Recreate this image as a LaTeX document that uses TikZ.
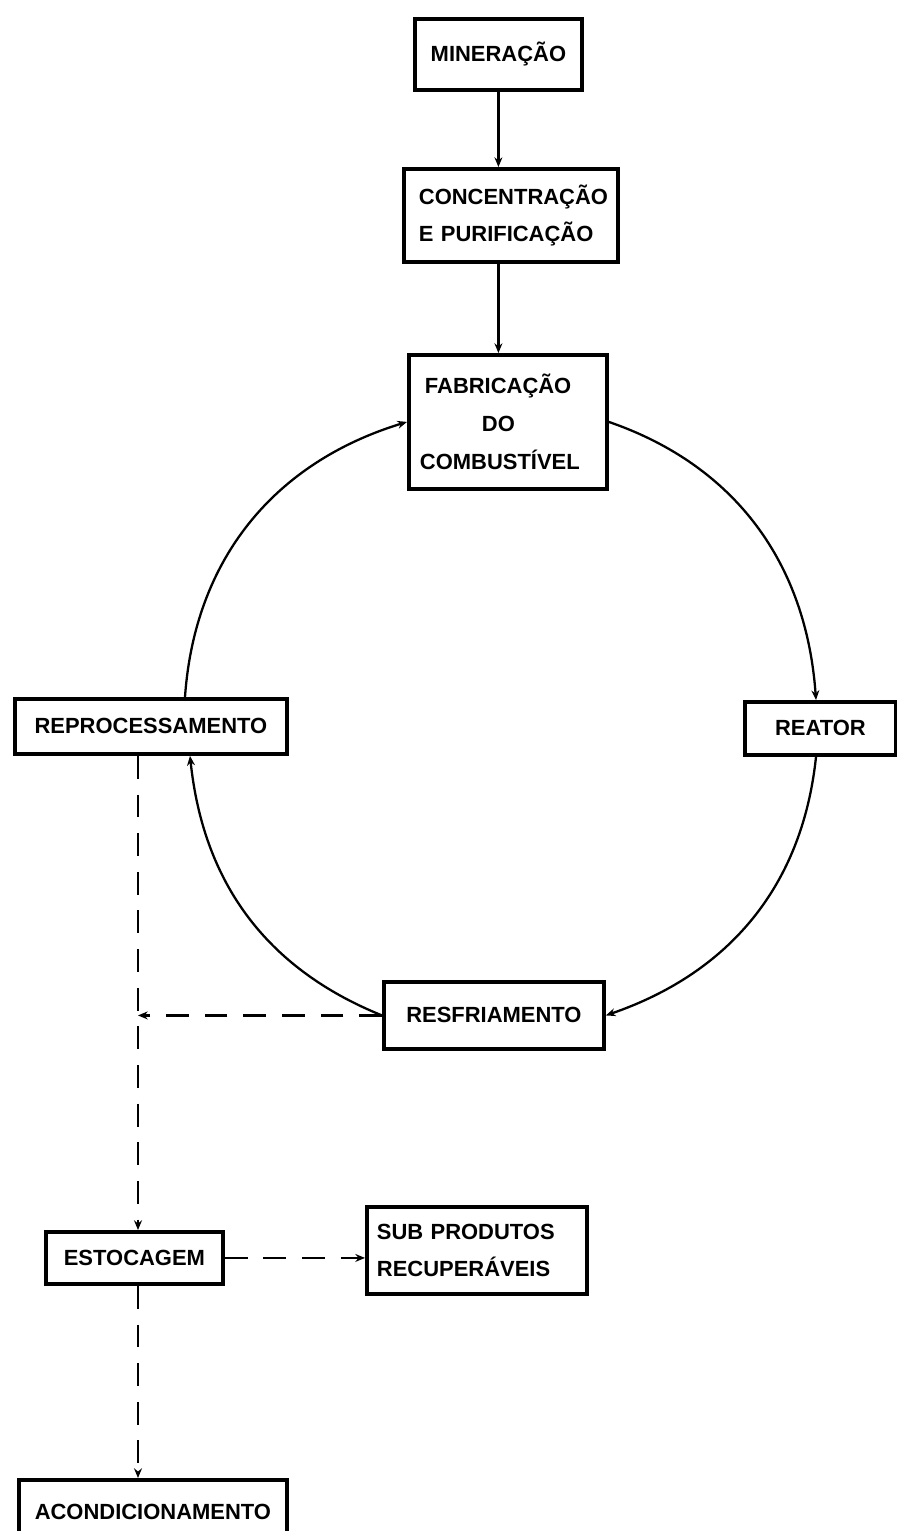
\documentclass[tikz,border=0pt]{standalone}
\usepackage{fontspec}
\setmainfont{Liberation Sans}
\usetikzlibrary{arrows.meta,calc}
\begin{document}
\begin{tikzpicture}[x=0.02cm,y=-0.02cm,
  box/.style={draw,line width=2.2pt,inner sep=0pt,anchor=north west,
    font=\fontsize{12.5}{21.5}\selectfont\bfseries},
  flow/.style={line width=1.3pt,-{Stealth[length=5.5pt,width=4.5pt]}},
  dflow/.style={flow,dash pattern=on 13pt off 9pt}]
\useasboundingbox (0,0) rectangle (896,1531);
\node[box,minimum width=3.34cm,minimum height=1.42cm] (min) at (413,17) {MINERAÇÃO};
\node[box,minimum width=4.28cm,minimum height=1.86cm,text width=4.28cm,align=left] (conc) at (402,167)
  {\hspace*{0.3cm}CONCENTRAÇÃO\\\hspace*{0.3cm}E PURIFICAÇÃO};
\node[box,minimum width=3.96cm,minimum height=2.68cm,text width=3.96cm,align=left] (fab) at (407,353)
  {\hspace*{0.32cm}FABRICAÇÃO\\\hspace*{1.46cm}DO\\\hspace*{0.22cm}COMBUSTÍVEL};
\node[box,minimum width=5.44cm,minimum height=1.1cm] (repro) at (13,697) {REPROCESSAMENTO};
\node[box,minimum width=3.02cm,minimum height=1.06cm] (reator) at (743,700) {REATOR};
\node[box,minimum width=4.4cm,minimum height=1.34cm] (resf) at (382,980) {RESFRIAMENTO};
\node[box,minimum width=3.54cm,minimum height=1.04cm] (estoc) at (44,1230) {ESTOCAGEM};
\node[box,minimum width=4.4cm,minimum height=1.74cm,text width=4.4cm,align=left] (sub) at (365,1205)
  {\hspace*{0.2cm}SUB PRODUTOS\\\hspace*{0.2cm}RECUPERÁVEIS};
\node[box,minimum width=5.36cm,minimum height=1.28cm] (acond) at (17,1478) {ACONDICIONAMENTO};
\coordinate (vx) at (138,0);
% solid chain
\draw[flow] (min.south) -- (min.south |- conc.north);
\draw[flow] (min.south |- conc.south) -- (min.south |- fab.north);
% cycle
\draw[flow] (fab.east) to[out=-19,in=94] (reator.north -| 816,0);
\draw[flow] (reator.south -| 816,0) to[out=-96,in=19] (resf.east);
\draw[flow] (resf.west) to[out=158,in=-84] (repro.south -| 190,0);
\draw[flow] (repro.north -| 185,0) to[out=86,in=197] (fab.west);
% dashed
\draw[dflow] (repro.south -| vx) -- (estoc.north -| vx);
\draw[dflow] (resf.west) -- (resf.west -| vx);
\draw[dflow] (estoc.east) -- (estoc.east -| sub.west);
\draw[dflow] (estoc.south -| vx) -- (acond.north -| vx);
\end{tikzpicture}
\end{document}
